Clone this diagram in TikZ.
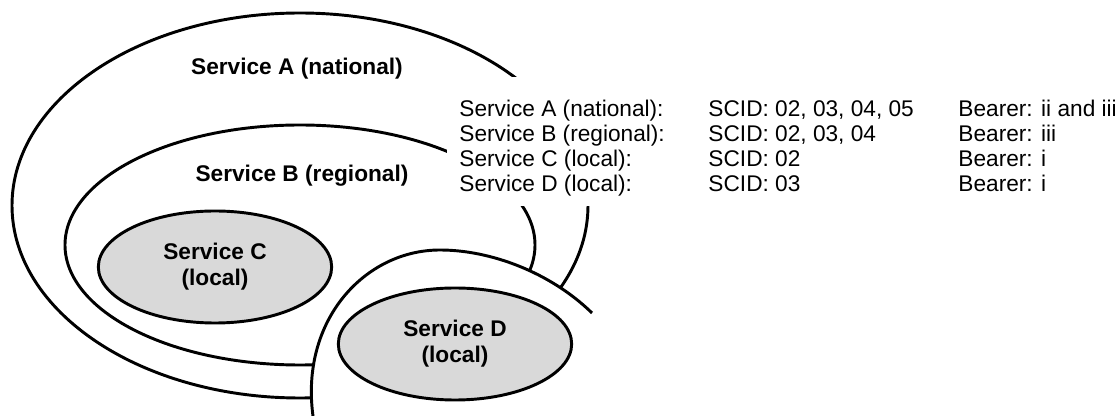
\documentclass[tikz,border=0pt]{standalone}
\usepackage{fontspec}
\setmainfont{Liberation Sans}
\usepackage{tikz}
\usetikzlibrary{shapes.geometric}
\definecolor{svcgray}{RGB}{217,217,217}
\newcommand{\svcfont}{\fontsize{17}{19.5}\selectfont}

\begin{document}
\begin{tikzpicture}[x=0.75pt, y=-0.75pt, line width=2.2pt,
  area/.style={anchor=base, font=\svcfont\bfseries},
  local/.style={ellipse, draw, fill=svcgray, inner sep=0pt, minimum width=175pt, minimum height=84pt, font=\svcfont\bfseries, align=center},
  row/.style={anchor=base west, inner sep=0pt, font=\svcfont}]
\useasboundingbox (0,0) rectangle (1115,416);
% national and regional areas
\draw (300,205.5) ellipse [x radius=288, y radius=192.5];
\draw (300,245) ellipse [x radius=235, y radius=120];
\node [area] (labA) at (297,75) {Service A (national)};
\node [area] (labB) at (302,182) {Service B (regional)};
\node [local] (svcC) at (215,267) {Service C\\(local)};
% area of the second local service
\fill[white] (313,416) .. controls (300,320) and (365,250) .. (440,250) .. controls (490,250) and (550,272) .. (592,313) -- (600,313) -- (600,416) -- cycle;
\draw (313,416) .. controls (300,320) and (365,250) .. (440,250) .. controls (490,250) and (550,272) .. (592,313);
\node [local] (svcD) at (455,344) {Service D\\(local)};
% table
\fill[white] (447,77) rectangle (1115,206);
\node [row] (nameA) at (458,117) {Service A (national):};
\node [row] (nameB) at (458,142) {Service B (regional):};
\node [row] (nameC) at (458,167) {Service C (local):};
\node [row] (nameD) at (458,192) {Service D (local):};
\node [row] (scidA) at (707,117) {SCID: 02, 03, 04, 05};
\node [row] (scidB) at (707,142) {SCID: 02, 03, 04};
\node [row] (scidC) at (707,167) {SCID: 02};
\node [row] (scidD) at (707,192) {SCID: 03};
\node [row] (bearA) at (957,117) {Bearer: ii and iii};
\node [row] (bearB) at (957,142) {Bearer: iii};
\node [row] (bearC) at (957,167) {Bearer: i};
\node [row] (bearD) at (957,192) {Bearer: i};
\end{tikzpicture}
\end{document}
